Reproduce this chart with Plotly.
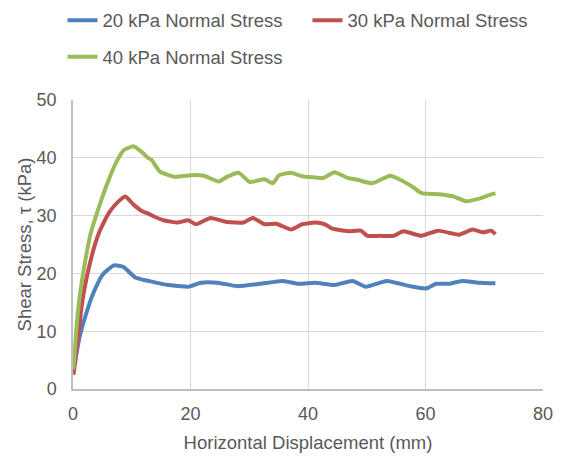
import plotly.graph_objects as go

x20 = [0.0, 0.27, 1.1, 2.2, 3.35, 5.0, 6.96, 8.6, 10.6, 12.8, 15.5, 16.2, 19.6, 21.8, 24.6, 27.9, 31.8, 35.7, 38.4, 41.2, 44.5, 47.6, 49.8, 53.4, 57.3, 60.1, 61.8, 64.0, 66.2, 69.0, 71.9]
y20 = [3.5, 4.4, 8.9, 12.9, 16.3, 19.7, 21.4, 21.1, 19.3, 18.7, 18.1, 18.0, 17.7, 18.4, 18.4, 17.8, 18.2, 18.7, 18.2, 18.4, 18.0, 18.7, 17.7, 18.7, 17.8, 17.4, 18.2, 18.2, 18.7, 18.4, 18.3]

x30 = [0.0, 0.1, 0.84, 1.67, 3.06, 4.46, 6.13, 7.8, 8.9, 10.3, 11.7, 12.9, 13.9, 15.4, 17.9, 19.6, 20.9, 23.4, 26.2, 29.0, 30.6, 32.6, 34.6, 37.1, 39.0, 41.2, 42.9, 44.0, 46.8, 49.0, 50.1, 52.3, 54.6, 56.2, 59.3, 62.1, 65.7, 68.0, 69.8, 71.2, 71.9]
y30 = [2.6, 2.7, 8.9, 15.7, 22.5, 27.1, 30.5, 32.5, 33.3, 31.9, 30.8, 30.3, 29.8, 29.2, 28.8, 29.2, 28.5, 29.6, 28.9, 28.8, 29.6, 28.5, 28.6, 27.6, 28.5, 28.8, 28.5, 27.8, 27.3, 27.4, 26.5, 26.5, 26.5, 27.3, 26.5, 27.4, 26.7, 27.6, 27.1, 27.4, 26.8]

x40 = [0.0, 0.1, 0.55, 1.1, 1.95, 3.06, 4.46, 5.85, 7.25, 8.64, 10.3, 11.7, 12.9, 13.4, 14.8, 17.3, 20.1, 22.3, 24.8, 26.2, 28.2, 30.1, 32.6, 34.0, 35.1, 37.1, 39.0, 41.2, 42.6, 44.5, 46.8, 48.4, 50.9, 54.0, 55.7, 57.9, 59.3, 62.3, 64.8, 66.8, 69.0, 70.7, 71.9]
y40 = [3.4, 3.8, 10.05, 15.7, 21.4, 27.1, 31.6, 35.6, 39.0, 41.3, 42.0, 41.0, 39.9, 39.6, 37.6, 36.7, 37.0, 36.9, 35.9, 36.7, 37.4, 35.8, 36.3, 35.6, 37.0, 37.4, 36.8, 36.6, 36.5, 37.5, 36.5, 36.2, 35.6, 36.9, 36.2, 34.9, 33.9, 33.7, 33.3, 32.5, 32.9, 33.5, 33.9]

names = ["20 kPa Normal Stress", "30 kPa Normal Stress", "40 kPa Normal Stress"]
colors = ["#4F81BD", "#C0504D", "#9BBB59"]
legend_ids = ["legend", "legend2", "legend3"]

FONT = "Liberation Sans, Arial, sans-serif"
TXT = "#595959"

fig = go.Figure()
for xs, ys, nm, c, lg in zip([x20, x30, x40], [y20, y30, y40], names, colors, legend_ids):
    fig.add_trace(go.Scatter(x=xs, y=ys, mode="lines", name=nm, legend=lg,
                             line=dict(color=c, width=4, shape="spline", smoothing=0.5)))

leg_common = dict(orientation="h", xref="container", yref="container",
                  xanchor="left", yanchor="middle",
                  font=dict(size=18.5, color=TXT, family=FONT),
                  bgcolor="rgba(0,0,0,0)", borderwidth=0)

fig.update_layout(
    width=561, height=458,
    margin=dict(l=73, r=8, t=100, b=64),
    paper_bgcolor="white", plot_bgcolor="white",
    font=dict(family=FONT, color=TXT, size=18),
    showlegend=True,
    legend=dict(x=62.5 / 561, y=1 - 20.7 / 458, **leg_common),
    legend2=dict(x=307.5 / 561, y=1 - 20.7 / 458, **leg_common),
    legend3=dict(x=62.5 / 561, y=1 - 57.3 / 458, **leg_common),
    xaxis=dict(range=[0, 80], dtick=20, showgrid=True, gridcolor="#D9D9D9",
               gridwidth=1, showline=True, linecolor="#BFBFBF", linewidth=1.5,
               zeroline=False, ticks="outside", ticklen=8, tickcolor="rgba(0,0,0,0)",
               tickfont=dict(size=18, color=TXT), ticklabeloverflow="allow",
               title=dict(text="Horizontal Displacement (mm)", font=dict(size=18.5, color=TXT), standoff=13)),
    yaxis=dict(range=[0, 50], dtick=10, showgrid=True, gridcolor="#D9D9D9",
               gridwidth=1, showline=True, linecolor="#BFBFBF", linewidth=1.5,
               zeroline=False, ticks="outside", ticklen=11, tickcolor="rgba(0,0,0,0)",
               tickfont=dict(size=18, color=TXT),
               title=dict(text="Shear Stress, τ (kPa)", font=dict(size=18.5, color=TXT), standoff=0)),
)

fig.write_html("out.html")
